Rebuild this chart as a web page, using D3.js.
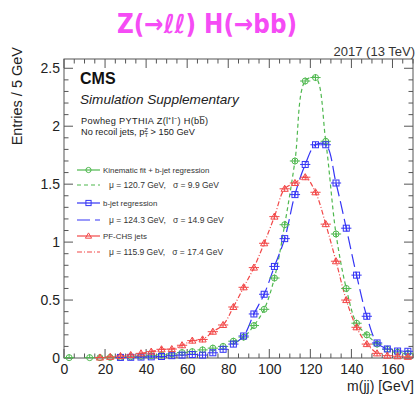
<!DOCTYPE html>
<html><head><meta charset="utf-8">
<script src="https://cdn.jsdelivr.net/npm/d3@7"></script>
<style>body{margin:0;background:#fff;} svg{display:block;} text{white-space:pre;}</style>
</head><body>
<script>
// ---------- data ----------
const binCenters = [2.5,7.5,12.5,17.5,22.5,27.5,32.5,37.5,42.5,47.5,52.5,57.5,62.5,67.5,72.5,77.5,82.5,87.5,92.5,97.5,102.5,107.5,112.5,117.5,122.5,127.5,132.5,137.5,142.5,147.5,152.5,157.5,162.5,167.5];
const kinFitValues = [0.003,null,0.003,0.003,0.005,0.007,0.01,0.014,0.02,0.027,0.035,0.047,0.055,0.07,0.085,0.10,0.145,0.18,0.28,0.42,0.69,1.15,1.70,2.39,2.42,1.87,1.07,0.60,0.30,0.20,0.12,0.075,0.05,0.04];
const bjetValues = [null,null,null,null,null,0.005,0.006,0.008,0.01,0.013,0.02,0.025,0.03,0.025,0.045,0.075,0.12,0.19,0.38,0.55,0.79,1.03,1.41,1.67,1.84,1.84,1.51,1.12,0.715,0.36,0.13,0.078,0.06,0.058];
const pfchsValues = [null,null,null,0.004,0.01,0.017,0.026,0.04,0.055,0.075,0.077,0.11,0.15,0.16,0.227,0.285,0.44,0.61,0.78,0.99,1.22,1.46,1.51,1.56,1.43,1.155,0.835,0.50,0.265,0.12,0.04,0.02,0.015,0.01];
const statErrors = [0.03, 0.025, 0.025];
const fitRanges = [[82.5,152.5],[82.5,157.5],[37.5,152.5]];
const seriesNames = ["Kinematic fit + b-jet regression","b-jet regression","PF-CHS jets"];
const fitLabels = ["\u03bc = 120.7 GeV,   \u03c3 = 9.9 GeV","\u03bc = 124.3 GeV,   \u03c3 = 14.9 GeV","\u03bc = 115.9 GeV,   \u03c3 = 17.4 GeV"];
const xTicks = [0,20,40,60,80,100,120,140,160];
const yTickLabels = ["0","0.5","1","1.5","2","2.5"];
const yTicks = [0,0.5,1,1.5,2,2.5];
const binWidth = 5;

// ---------- style ----------
const colors = ["#4fb84f","#3535f5","#f24848"];
const dashes = ["4,3","13,5","5,2,1,2"];
const markers = ["circle","square","triangle"];
const W = 417, H = 396;
const svg = d3.select("body").append("svg").attr("width",W).attr("height",H)
  .style("font-family","'Liberation Sans', Arial, Helvetica, sans-serif");

const x = d3.scaleLinear().domain([0,170]).range([64,413]);
const y = d3.scaleLinear().domain([0,2.58]).range([358,59]);
const axisCol = "#555";

// frame
svg.append("rect").attr("x",x(0)).attr("y",y(2.58)).attr("width",x(170)-x(0)).attr("height",y(0)-y(2.58))
  .attr("fill","none").attr("stroke",axisCol).attr("stroke-width",1);

// ticks (bottom & top, left & right)
d3.range(0,171,5).forEach(v=>{
  const L = v%20===0?9:4.5;
  svg.append("line").attr("x1",x(v)).attr("x2",x(v)).attr("y1",y(0)).attr("y2",y(0)-L).attr("stroke",axisCol);
  svg.append("line").attr("x1",x(v)).attr("x2",x(v)).attr("y1",y(2.58)).attr("y2",y(2.58)+L).attr("stroke",axisCol);
});
d3.range(0,26).map(i=>i/10).forEach(v=>{
  const major = Math.abs(v*2-Math.round(v*2))<1e-6;
  const L = major?9:4.5;
  svg.append("line").attr("x1",x(0)).attr("x2",x(0)+L).attr("y1",y(v)).attr("y2",y(v)).attr("stroke",axisCol);
  svg.append("line").attr("x1",x(170)).attr("x2",x(170)-L).attr("y1",y(v)).attr("y2",y(v)).attr("stroke",axisCol);
});
const xAxis = d3.axisBottom(x).tickValues(xTicks).tickSize(0).tickPadding(6);
svg.append("g").attr("transform",`translate(0,${y(0)})`).call(xAxis)
  .call(g=>g.select(".domain").remove())
  .selectAll("text").attr("font-size",14).attr("fill","#222").attr("font-family","'Liberation Sans', Arial, sans-serif");
const yAxis = d3.axisLeft(y).tickValues(yTicks).tickFormat((d,i)=>yTickLabels[i]).tickSize(0).tickPadding(4);
svg.append("g").attr("transform",`translate(${x(0)},0)`).call(yAxis)
  .call(g=>g.select(".domain").remove())
  .selectAll("text").attr("font-size",14).attr("fill","#222").attr("font-family","'Liberation Sans', Arial, sans-serif");

// axis titles
svg.append("text").attr("x",414).attr("y",391).attr("text-anchor","end").attr("font-size",14).attr("fill","#222").text("m(jj) [GeV]");
svg.append("text").attr("transform","translate(22,47) rotate(-90)").attr("text-anchor","end").attr("font-size",14.5).attr("fill","#222").text("Entries / 5 GeV");

// title
svg.append("text").attr("x",207).attr("y",33).attr("text-anchor","middle")
  .attr("font-family","'Liberation Sans Narrow','DejaVu Sans Condensed','DejaVu Sans',sans-serif")
  .attr("font-weight","bold").attr("font-size",26).attr("fill","#f54cf5")
  .attr("textLength",180).attr("lengthAdjust","spacingAndGlyphs").text("Z(\u2192\u2113\u2113) H(\u2192bb)");
svg.append("text").attr("x",415).attr("y",56).attr("text-anchor","end").attr("font-size",13).attr("fill","#333").text("2017 (13 TeV)");

// CMS labels
svg.append("text").attr("x",80).attr("y",84).attr("font-size",16).attr("font-weight","bold").attr("fill","#111").text("CMS");
svg.append("text").attr("x",80).attr("y",104).attr("font-size",13.6).attr("font-style","italic").attr("fill","#222").text("Simulation Supplementary");
svg.append("text").attr("x",81).attr("y",123.5).attr("font-size",9.2).attr("fill","#222")
  .attr("textLength",127).attr("lengthAdjust","spacing")
  .text("Powheg PYTHIA Z(l\u207Al\u207B) H(bb\u0305)");
const t2 = svg.append("text").attr("x",81).attr("y",134.5).attr("font-size",9.2).attr("fill","#222");
t2.append("tspan").text("No recoil jets, p");
t2.append("tspan").attr("font-size",6).attr("dy",-2.8).text("Z");
t2.append("tspan").attr("font-size",6).attr("dy",5.3).attr("dx",-3.6).text("T");
t2.append("tspan").attr("dy",-2.5).text(" > 150 GeV");

function drawMarker(g, type, cx, cy, col, r){
  if(type==="circle") g.append("circle").attr("cx",cx).attr("cy",cy).attr("r",r).attr("fill","none").attr("stroke",col).attr("stroke-width",1);
  else if(type==="square") g.append("rect").attr("x",cx-r).attr("y",cy-r).attr("width",2*r).attr("height",2*r).attr("fill","none").attr("stroke",col).attr("stroke-width",1);
  else { const s=r*1.2; g.append("path").attr("d",`M${cx},${cy-s}L${cx+s},${cy+s*0.7}L${cx-s},${cy+s*0.7}Z`).attr("fill","none").attr("stroke",col).attr("stroke-width",1); }
}

const allSeries = [kinFitValues, bjetValues, pfchsValues];
const plot = svg.append("g");
allSeries.forEach((vals,si)=>{
  const pts = binCenters.map((c,i)=>({c, v: vals[i]})).filter(p=>p.v!=null && p.c>=fitRanges[si][0] && p.c<=fitRanges[si][1]);
  const line = d3.line().x(p=>x(p.c)).y(p=>y(p.v)).curve(d3.curveCatmullRom.alpha(0.5));
  plot.append("path").attr("d",line(pts)).attr("fill","none").attr("stroke",colors[si])
    .attr("stroke-width",1.2).attr("stroke-dasharray",dashes[si]);
});
allSeries.forEach((vals,si)=>{
  const g = plot.append("g");
  binCenters.forEach((c,i)=>{
    const v = vals[i]; if(v==null) return;
    const cx = x(c), cy = y(v);
    g.append("line").attr("x1",x(c-binWidth/2)).attr("x2",x(c+binWidth/2)).attr("y1",cy).attr("y2",cy).attr("stroke",colors[si]).attr("stroke-width",1);
    g.append("line").attr("x1",cx).attr("x2",cx).attr("y1",y(Math.max(0,v-statErrors[si]))).attr("y2",y(v+statErrors[si])).attr("stroke",colors[si]).attr("stroke-width",1);
    drawMarker(g, markers[si], cx, cy, colors[si], 3);
  });
});

// legend
const legRows = [170,185,203,220,236,252];
seriesNames.forEach((name,si)=>{
  const yr = legRows[si*2], yf = legRows[si*2+1];
  svg.append("line").attr("x1",77).attr("x2",100).attr("y1",yr).attr("y2",yr).attr("stroke",colors[si]).attr("stroke-width",1.2);
  drawMarker(svg, markers[si], 88.5, yr, colors[si], 2.6);
  svg.append("text").attr("x",103).attr("y",yr+3).attr("font-size",7.9).attr("fill","#333").text(name);
  svg.append("line").attr("x1",77).attr("x2",100).attr("y1",yf).attr("y2",yf).attr("stroke",colors[si]).attr("stroke-width",1.2).attr("stroke-dasharray",dashes[si]);
  svg.append("text").attr("x",109).attr("y",yf+3).attr("font-size",8.5).attr("fill","#333").text(fitLabels[si]);
});
</script>
</body></html>
